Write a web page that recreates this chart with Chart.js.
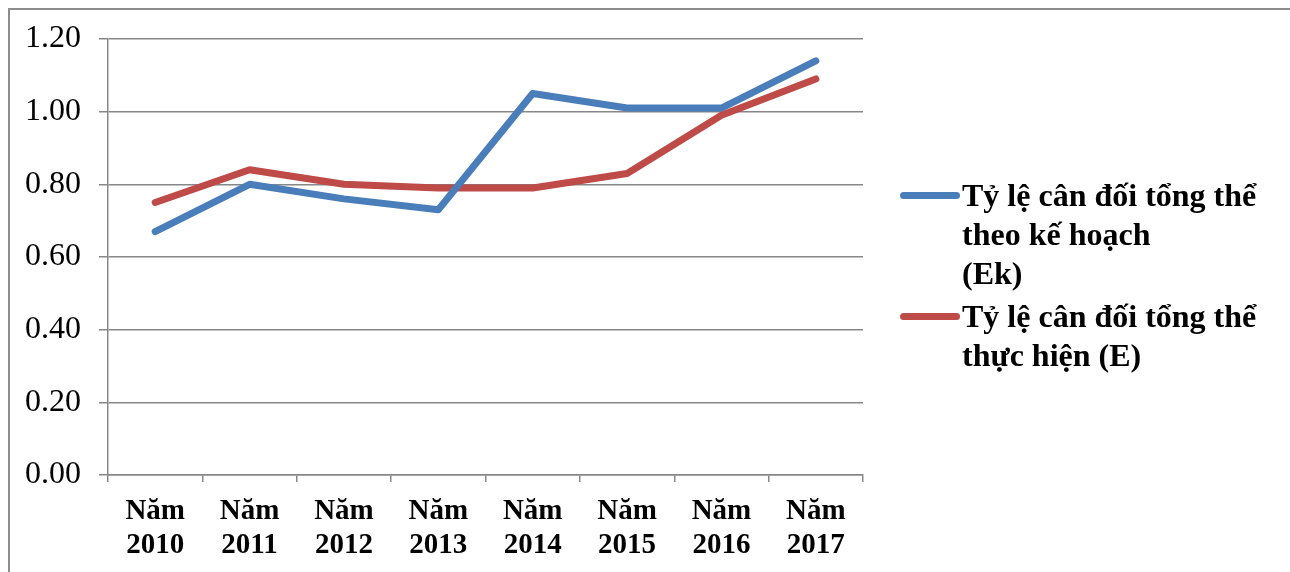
<!DOCTYPE html>
<html>
<head>
<meta charset="utf-8">
<script src="https://cdn.jsdelivr.net/npm/chart.js@4/dist/chart.umd.min.js"></script>
<style>
  html, body { margin: 0; padding: 0; background: #fff; }
  #wrap { position: relative; width: 1290px; height: 572px; overflow: hidden; }
  #frame { position: absolute; left: 8px; top: 8px; width: 1300px; height: 600px;
           border-left: 2px solid #8c8c8c; border-top: 2px solid #8c8c8c; box-sizing: border-box; }
  canvas { position: absolute; left: 0; top: 0; }
  #legend { position: absolute; left: 900px; top: 176px; font-family: "Liberation Serif", serif;
            font-weight: bold; font-size: 32px; line-height: 39px; color: #000; }
  .item { position: relative; padding-left: 62px; margin-bottom: 4px; }
  .swatch { position: absolute; left: 0; top: 16px; width: 60px; height: 7px; border-radius: 4px; }
</style>
</head>
<body>
<div id="wrap">
  <div id="frame"></div>
  <canvas id="c" width="1290" height="572"></canvas>
  <div id="legend"></div>
</div>
<script>
const years = ['2010', '2011', '2012', '2013', '2014', '2015', '2016', '2017'];
const categories = years.map(y => ['Năm', y]);
const planned = [0.67, 0.80, 0.76, 0.73, 1.05, 1.01, 1.01, 1.14];
const actual  = [0.75, 0.84, 0.80, 0.79, 0.79, 0.83, 0.99, 1.09];
const plannedName = ['Tỷ lệ cân đối tổng thể', 'theo kế hoạch', '(Ek)'];
const actualName  = ['Tỷ lệ cân đối tổng thể', 'thực hiện (E)'];
const yTicks = [0, 0.2, 0.4, 0.6, 0.8, 1.0, 1.2];

const blue = '#4a7ebb';
const red = '#be4b48';
const gridGray = '#878787';

const series = [
  { name: plannedName, data: planned, color: blue },
  { name: actualName, data: actual, color: red }
];

const chart = new Chart(document.getElementById('c'), {
  type: 'line',
  data: {
    labels: categories,
    datasets: series.map(s => ({
      label: s.name.join(' '),
      data: s.data,
      borderColor: s.color,
      backgroundColor: s.color,
      borderWidth: 7,
      borderCapStyle: 'round',
      borderJoinStyle: 'round',
      pointRadius: 0,
      pointHoverRadius: 0,
      tension: 0,
      fill: false
    }))
  },
  options: {
    responsive: false,
    animation: false,
    events: [],
    layout: { padding: { top: 39, right: 427, bottom: 0, left: 0 } },
    plugins: { legend: { display: false }, tooltip: { enabled: false } },
    scales: {
      x: {
        offset: true,
        grid: { offset: true, drawOnChartArea: false, drawTicks: true, tickLength: 7, color: gridGray, lineWidth: 1.5 },
        border: { color: gridGray, width: 1.5 },
        ticks: {
          color: '#000',
          padding: 12,
          font: { family: 'Liberation Serif', size: 29, weight: 'bold', lineHeight: 1.18 },
          maxRotation: 0, autoSkip: false
        },
        afterFit: s => { s.height = 97; }
      },
      y: {
        min: 0, max: 1.2,
        afterBuildTicks: s => { s.ticks = yTicks.map(v => ({ value: v })); },
        grid: { color: gridGray, lineWidth: 1.5, drawTicks: true, tickLength: 9 },
        border: { color: gridGray, width: 1.5 },
        ticks: {
          color: '#000',
          padding: 18,
          font: { family: 'Liberation Serif', size: 32 },
          callback: v => Number(v).toFixed(2)
        },
        afterFit: s => { s.width = 108; }
      }
    }
  }
});

// HTML legend with wrapped series names
const legend = document.getElementById('legend');
series.forEach(s => {
  const item = document.createElement('div');
  item.className = 'item';
  const sw = document.createElement('div');
  sw.className = 'swatch';
  sw.style.background = s.color;
  item.appendChild(sw);
  s.name.forEach((line, i) => {
    if (i) item.appendChild(document.createElement('br'));
    item.appendChild(document.createTextNode(line));
  });
  legend.appendChild(item);
});
</script>
</body>
</html>
